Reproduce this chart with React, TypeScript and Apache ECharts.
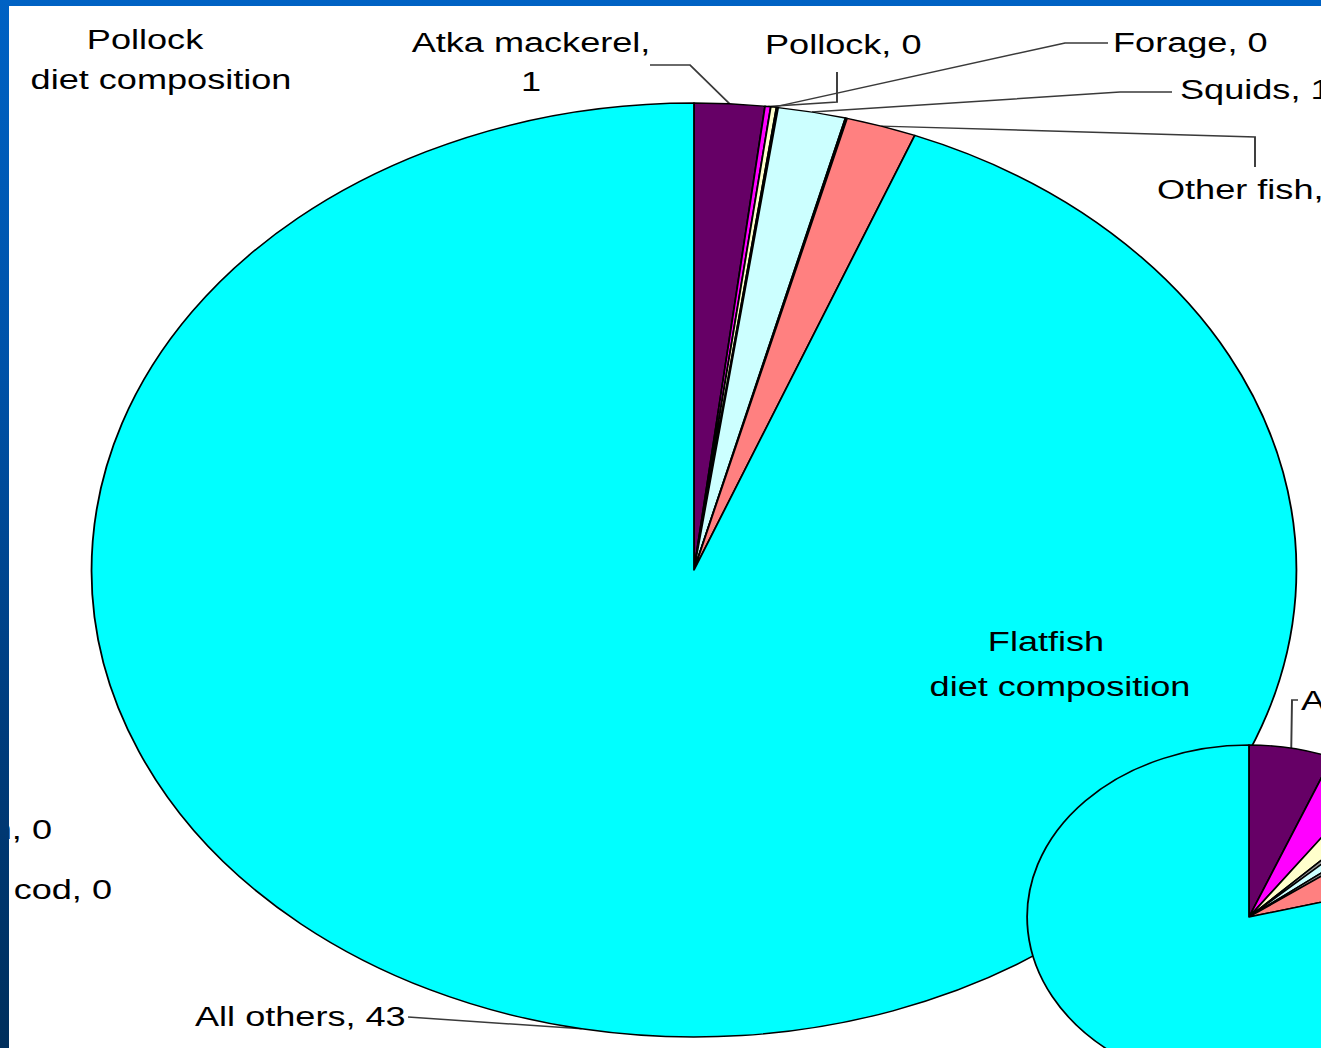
import React, { useEffect, useRef } from 'react';
import * as echarts from 'echarts';

// ---------- data ----------
const CATEGORIES = ['Atka mackerel', 'Pollock', 'Forage', 'Flatfish', 'Squids', 'Pacific cod', 'Other fish', 'All others'];
const POLLOCK_DIET = [0.86, 0.07, 0.07, 0.02, 0.83, 0.02, 0.86, 43];
const FLATFISH_DIET = [6.1, 3.7, 2.6, 0.6, 1.4, 0.6, 5.9, 79.1];
const SLICE_COLORS = ['#660066', '#FF00FF', '#FFFFCC', '#969696', '#CCFFFF', '#808080', '#FF8080', '#00FFFF'];
const POLLOCK_TITLE = ['Pollock', 'diet composition'];
const FLATFISH_TITLE = ['Flatfish', 'diet composition'];

// ---------- layout (screen px; the picture is stretched horizontally) ----------
const S = 1.29;
const LEFT = -200;
const CHART_W = Math.round((1480 - LEFT) / S);
const CHART_H = 1048;
const toX = (X: number) => (X - LEFT) / S;
const FONT = '"Liberation Sans", Arial, sans-serif';

type LabelCfg = { x: number; y: number; align: string; wrap?: boolean; line?: number[][] };

const MAIN_LABELS: Record<number, LabelCfg> = {
  0: { x: 531, y: 62, align: 'center', wrap: true, line: [[690, 65], [650, 65]] },
  1: { x: 765, y: 44, align: 'left', line: [[837, 102], [837, 72]] },
  2: { x: 1113, y: 42, align: 'left', line: [[1065, 43], [1108, 43]] },
  3: { x: 52, y: 829, align: 'right' },
  4: { x: 1180, y: 89, align: 'left', line: [[1120, 92], [1172, 92]] },
  5: { x: 112, y: 889, align: 'right' },
  6: { x: 1157, y: 189, align: 'left', line: [[1255, 137], [1255, 167]] },
  7: { x: 195, y: 1016, align: 'left', line: [[408, 1017]] },
};
const FLAT_LABELS: Record<number, LabelCfg> = {
  0: { x: 1301, y: 700, align: 'left', line: [[1292, 700], [1298, 700]] },
};

const makeLayout = (cfgs: Record<number, LabelCfg>) => (p: any) => {
  const c = cfgs[p.dataIndex];
  if (!c) return {};
  const out: any = { x: toX(c.x), y: c.y, align: c.align, verticalAlign: 'middle' };
  if (c.line && p.labelLinePoints && p.labelLinePoints.length) {
    out.labelLinePoints = [p.labelLinePoints[0], ...c.line.map(([x, y]) => [toX(x), y])];
  }
  return out;
};

const makeFormatter = (cfgs: Record<number, LabelCfg>) => (p: any) => {
  const c = cfgs[p.dataIndex];
  return `${p.name},${c && c.wrap ? '\n' : ' '}${Math.round(p.value)}`;
};

const labelStyle = {
  show: true,
  position: 'outside',
  color: '#000',
  fontSize: 28,
  fontFamily: FONT,
  lineHeight: 39,
  overflow: 'none',
};

const titleText = (text: string, x: number, y: number) => ({
  type: 'text',
  z: 100,
  x: toX(x),
  y,
  style: {
    text,
    fill: '#000',
    fontSize: 28,
    fontFamily: FONT,
    align: 'center',
    textAlign: 'center',
    verticalAlign: 'middle',
    textVerticalAlign: 'middle',
  },
});

export default function App() {
  const ref = useRef<HTMLDivElement>(null);

  useEffect(() => {
    if (!ref.current) return;
    const chart = echarts.init(ref.current, undefined, { renderer: 'svg' });

    const mainData = CATEGORIES.map((name, i) => ({
      name,
      value: POLLOCK_DIET[i],
      itemStyle: { color: SLICE_COLORS[i] },
      labelLine: { show: !!(MAIN_LABELS[i] && MAIN_LABELS[i].line) },
    }));
    const flatData = CATEGORIES.map((name, i) => ({
      name,
      value: FLATFISH_DIET[i],
      itemStyle: { color: SLICE_COLORS[i] },
      label: { show: !!FLAT_LABELS[i] },
      labelLine: { show: !!FLAT_LABELS[i] },
    }));

    chart.setOption({
      animation: false,
      graphic: [
        titleText(POLLOCK_TITLE[0], 145, 39),
        titleText(POLLOCK_TITLE[1], 161, 79),
        titleText(FLATFISH_TITLE[0], 1046, 641),
        titleText(FLATFISH_TITLE[1], 1060, 686),
      ],
      series: [
        {
          type: 'pie',
          z: 2,
          silent: true,
          center: [toX(694), 570],
          radius: 467,
          startAngle: 90,
          clockwise: true,
          avoidLabelOverlap: false,
          itemStyle: { borderColor: '#000', borderWidth: 1.4 },
          label: { ...labelStyle, formatter: makeFormatter(MAIN_LABELS) },
          labelLine: { show: true, lineStyle: { color: '#3a3a3a', width: 1.5 } },
          labelLayout: makeLayout(MAIN_LABELS),
          emphasis: { disabled: true },
          data: mainData,
        },
        {
          type: 'pie',
          z: 3,
          silent: true,
          center: [toX(1249), 917],
          radius: 172,
          startAngle: 90,
          clockwise: true,
          avoidLabelOverlap: false,
          itemStyle: { borderColor: '#000', borderWidth: 1.4 },
          label: { ...labelStyle, formatter: makeFormatter(FLAT_LABELS) },
          labelLine: { show: true, lineStyle: { color: '#3a3a3a', width: 1.5 } },
          labelLayout: makeLayout(FLAT_LABELS),
          emphasis: { disabled: true },
          data: flatData,
        },
      ],
    });

    return () => chart.dispose();
  }, []);

  return (
    <div
      style={{
        position: 'fixed',
        left: 0,
        top: 0,
        width: 1321,
        height: 1048,
        overflow: 'hidden',
        background: 'linear-gradient(180deg, #0062c4 0%, #0052a8 35%, #003c7c 70%, #002f5c 100%)',
      }}
    >
      <div
        style={{
          position: 'absolute',
          left: 9,
          top: 6,
          width: 1312,
          height: 1042,
          overflow: 'hidden',
          background: '#ffffff',
        }}
      >
        <div
          ref={ref}
          style={{
            position: 'absolute',
            left: LEFT - 9,
            top: -6,
            width: CHART_W,
            height: CHART_H,
            transform: `scaleX(${S})`,
            transformOrigin: '0 0',
          }}
        />
      </div>
    </div>
  );
}
